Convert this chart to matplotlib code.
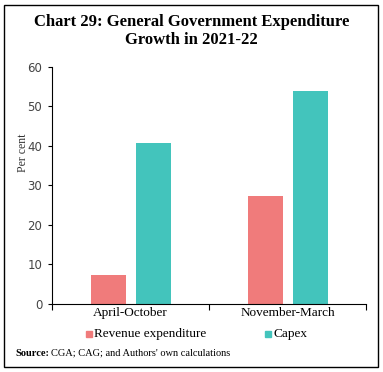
import matplotlib.pyplot as plt
from matplotlib.patches import Rectangle
import numpy as np

categories = ["April-October", "November-March"]
revenue = [7.3, 27.3]
capex = [40.8, 53.9]
series_names = ["Revenue expenditure", "Capex"]
yticks = [0, 10, 20, 30, 40, 50, 60]

rev_color = "#F07B7B"
capex_color = "#43C4BC"

fig = plt.figure(figsize=(3.83, 3.72), dpi=100)
ax = fig.add_axes([0.136, 0.183, 0.82, 0.637])

x = np.arange(len(categories))
w = 0.223
ax.bar(x - 0.143, revenue, w, color=rev_color)
ax.bar(x + 0.143, capex, w, color=capex_color)

ax.set_xlim(-0.5, 1.5)
ax.set_ylim(0, 60)
ax.set_yticks(yticks)
ax.set_yticklabels([str(t) for t in yticks], fontsize=8.5, color="#444444")
ax.set_ylabel("Per cent", family="Liberation Serif", fontsize=8.5, color="#333333")
ax.yaxis.set_label_coords(-0.075, 0.64)

ax.set_xticks([-0.5, 0.5, 1.5])
ax.set_xticklabels(["", "", ""])
ax.set_xticks(x, minor=True)
ax.set_xticklabels(categories, minor=True, family="Liberation Serif", fontsize=9.5)
ax.tick_params(axis="x", which="minor", length=0, pad=2)
ax.tick_params(axis="x", which="major", length=4, direction="out")
ax.tick_params(axis="y", length=3, pad=4)

for s in ["top", "right"]:
    ax.spines[s].set_visible(False)

# legend
fig.patches.append(Rectangle((86 / 383, 1 - 337 / 372), 6 / 383, 6 / 372,
                             transform=fig.transFigure, color=rev_color))
fig.text(94 / 383, 1 - 334 / 372, series_names[0], family="Liberation Serif",
         fontsize=9.5, va="center")
fig.patches.append(Rectangle((265 / 383, 1 - 337 / 372), 6 / 383, 6 / 372,
                             transform=fig.transFigure, color=capex_color))
fig.text(274 / 383, 1 - 334 / 372, series_names[1], family="Liberation Serif",
         fontsize=9.5, va="center")

fig.text(0.5, 1 - 31 / 372, "Chart 29: General Government Expenditure\nGrowth in 2021-22",
         ha="center", va="center", family="Liberation Serif", fontweight="bold",
         fontsize=12, linespacing=1.15)

src = fig.text(15 / 383, 1 - 353 / 372, "Source:", family="Liberation Serif",
               fontweight="bold", fontsize=7.5, va="center")
r = fig.canvas.get_renderer()
bb = src.get_window_extent(renderer=r)
fig.text((bb.x1 + 2) / 383, 1 - 353 / 372, "CGA; CAG; and Authors' own calculations",
         family="Liberation Serif", fontsize=7.5, va="center")

fig.patches.append(Rectangle((4 / 383, 1 - 367 / 372), 374 / 383, 362 / 372,
                             transform=fig.transFigure, fill=False, lw=1, ec="black"))

fig.savefig("out.png", dpi=100)
